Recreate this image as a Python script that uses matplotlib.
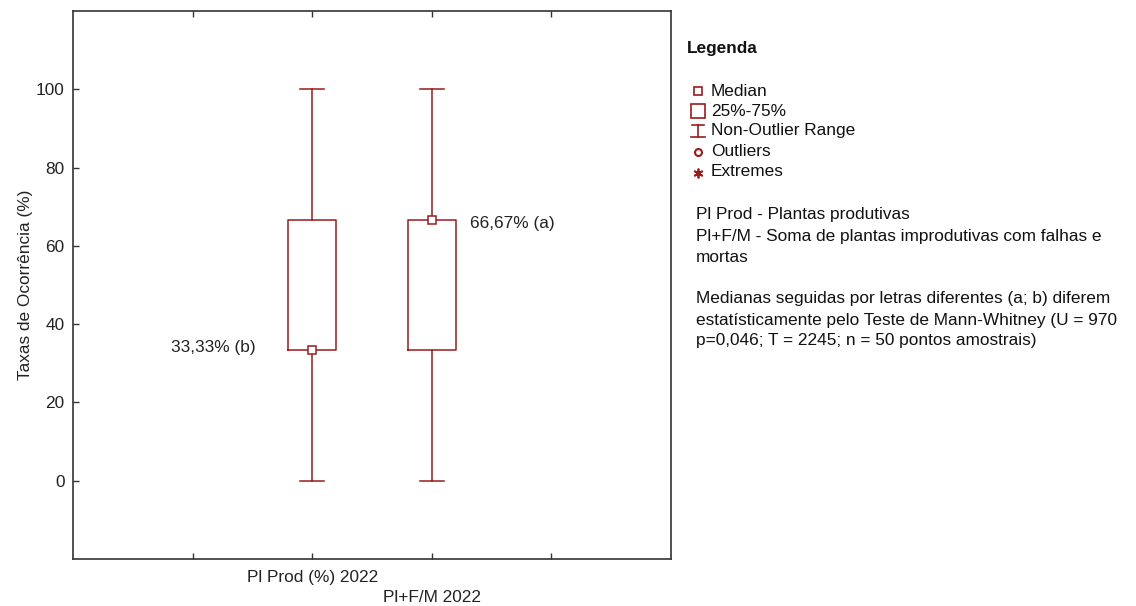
import matplotlib
matplotlib.use("Agg")
import matplotlib.pyplot as plt
from matplotlib.patches import Rectangle

plt.rcParams['font.family'] = ['Liberation Sans', 'DejaVu Sans']

# ---- data ----
categories = ["Pl Prod (%) 2022", "Pl+F/M 2022"]
positions = [2, 3]
medians = [33.33, 66.67]
q1 = [33.33, 33.33]
q3 = [66.67, 66.67]
whis_lo = [0, 0]
whis_hi = [100, 100]
median_labels = ["33,33% (b)", "66,67% (a)"]
yticks = [0, 20, 40, 60, 80, 100]

color = '#9b1b1b'
FS = 12.4

fig = plt.figure(figsize=(11.36, 6.06), dpi=100)
ax = fig.add_axes([73/1136, 1-559/606, 598/1136, 548/606])

stats = []
for i in range(len(categories)):
    stats.append(dict(med=medians[i], q1=q1[i], q3=q3[i],
                      whislo=whis_lo[i], whishi=whis_hi[i], fliers=[]))
ax.bxp(stats, positions=positions, widths=0.4, showfliers=False,
       boxprops=dict(color=color, linewidth=1.1),
       whiskerprops=dict(color=color, linewidth=1.1),
       capprops=dict(color=color, linewidth=1.1),
       medianprops=dict(linewidth=0),
       capwidths=0.2, manage_ticks=False)
ax.plot(positions, medians, linestyle='none', marker='s', markersize=5.5,
        markerfacecolor='white', markeredgecolor=color, markeredgewidth=1.1)

# median annotations
ax.text(1.53, 34.1, median_labels[0], ha='right', va='center',
        fontsize=FS, color='#222222')
ax.text(3.32, 65.6, median_labels[1], ha='left', va='center',
        fontsize=FS, color='#222222')

ax.set_xlim(0, 5)
ax.set_ylim(-20, 120)
ax.set_yticks(yticks)
ax.set_yticklabels([str(v) for v in yticks], fontsize=FS, color='#222222')
ax.set_xticks([1, 2, 3, 4])
ax.set_xticklabels([])
ax.tick_params(axis='both', direction='in', length=4, width=1, colors='#333333',
               top=True, right=False)
ax.tick_params(axis='y', pad=6, labelcolor='#222222')
for s in ax.spines.values():
    s.set_color('#333333')
    s.set_linewidth(1.2)
ax.set_ylabel("Taxas de Ocorrência (%)", fontsize=FS, color='#222222', labelpad=2)

# staggered category labels
ax.text(positions[0], -22.8, categories[0], ha='center', va='top', fontsize=FS,
        color='#222222', clip_on=False)
ax.text(positions[1], -28.0, categories[1], ha='center', va='top', fontsize=FS,
        color='#222222', clip_on=False)

# ---- legend panel (overlay in pixel coords) ----
ov = fig.add_axes([0, 0, 1, 1], facecolor='none')
ov.set_xlim(0, 1136)
ov.set_ylim(606, 0)
ov.axis('off')

ov.text(687, 48, "Legenda", fontsize=FS, fontweight='bold', va='center', ha='left', color='#111111')

items = ["Median", "25%-75%", "Non-Outlier Range", "Outliers", "Extremes"]
ys = [91, 111, 131, 151, 171]
tx = 711
sx = 698
# Median symbol
ov.plot([sx], [ys[0]], marker='s', markersize=5.5, markerfacecolor='white',
        markeredgecolor=color, markeredgewidth=1.2, linestyle='none')
# box symbol
ov.add_patch(Rectangle((sx - 7, ys[1] - 7), 14, 14, fill=False, edgecolor=color, linewidth=1.2))
# range symbol
ov.plot([sx, sx], [ys[2] - 6, ys[2] + 6], color=color, linewidth=1.2)
ov.plot([sx - 6, sx + 6], [ys[2] - 6, ys[2] - 6], color=color, linewidth=1.2)
ov.plot([sx - 7, sx + 7], [ys[2] + 6, ys[2] + 6], color=color, linewidth=1.2)
# outliers
ov.plot([sx], [ys[3] + 1], marker='o', markersize=5, markerfacecolor='white',
        markeredgecolor=color, markeredgewidth=1.5, linestyle='none')
# extremes
ov.plot([sx], [ys[4] + 2], marker=(6, 2, 0), markersize=7, color=color,
        markeredgewidth=1.3, linestyle='none')
for it, y in zip(items, ys):
    ov.text(tx, y, it, fontsize=FS, va='center', ha='left', color='#111111')

notes = [
    (215, "Pl Prod - Plantas produtivas"),
    (236, "Pl+F/M - Soma de plantas improdutivas com falhas e"),
    (257, "mortas"),
    (299, "Medianas seguidas por letras diferentes (a; b) diferem"),
    (320, "estatísticamente pelo Teste de Mann-Whitney (U = 970"),
    (341, "p=0,046; T = 2245; n = 50 pontos amostrais)"),
]
for y, t in notes:
    ov.text(696, y, t, fontsize=FS, va='center', ha='left', color='#111111')

fig.savefig("out.png", dpi=100)
